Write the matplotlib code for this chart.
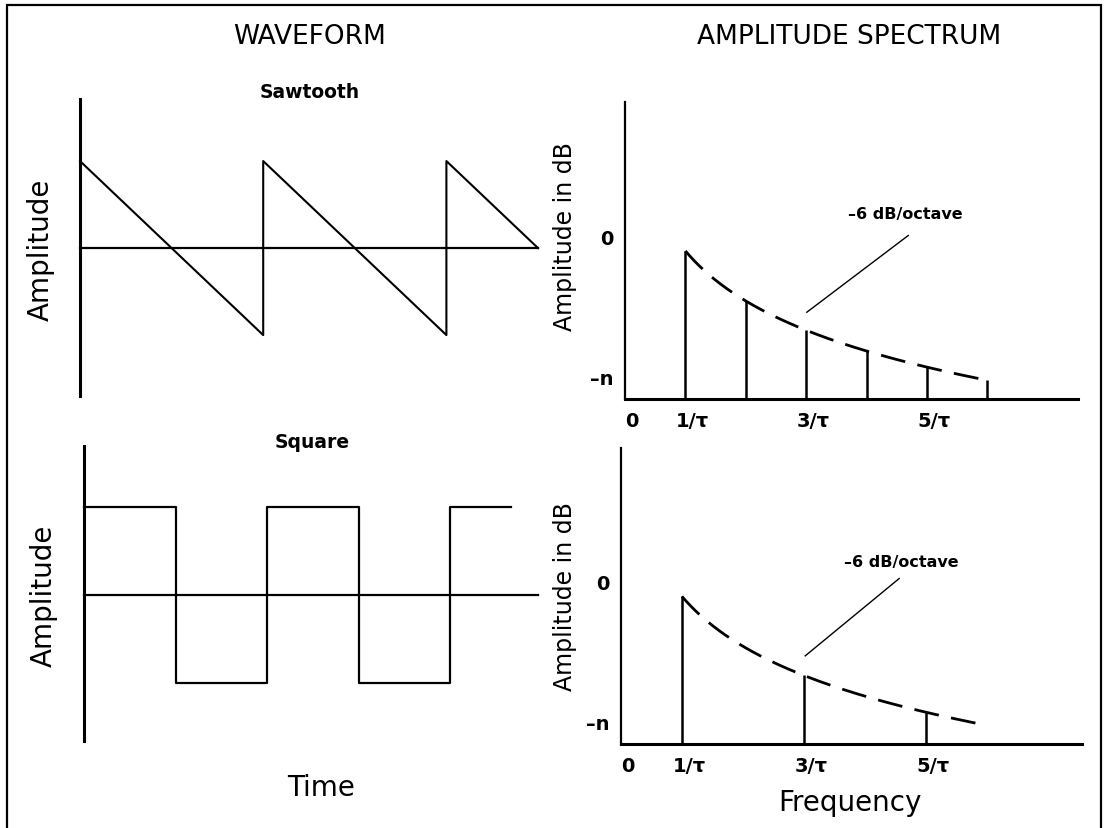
import numpy as np
import matplotlib
matplotlib.use("Agg")
import matplotlib.pyplot as plt
from matplotlib.patches import Rectangle
from matplotlib.transforms import ScaledTranslation

# ---- data -------------------------------------------------------------
# waveforms: time in periods, amplitude normalised to +-1
sawtooth_t = [0, 1, 1, 2, 2, 2.5]
sawtooth_v = [1, -1, 1, -1, 1, 0]

square_t = [0, 0.5, 1.0, 1.5, 2.0, 2.33]
square_v = [1, -1, 1, -1, 1, 1]

# spectra: harmonic number (multiples of 1/tau) and level in dB
saw_harmonics = [1, 2, 3, 4, 5, 6]
saw_levels = [-1.75, -7.75, -11.25, -13.75, -15.7, -17.25]

sq_harmonics = [1, 3, 5]
sq_levels = [-1.75, -11.25, -15.7]

slope_db_per_octave = -6
envelope_end = [6.0, 5.95]

freq_ticks = [0, 1, 3, 5]
freq_tick_labels = ["0", "1/\u03c4", "3/\u03c4", "5/\u03c4"]
db_ticks = [0, -16.8]
db_tick_labels = ["0", "\u2013n"]

# ---- figure -----------------------------------------------------------
W, H = 1106, 829
plt.rcParams["font.family"] = ["DejaVu Sans"]
fig = plt.figure(figsize=(W / 100, H / 100), dpi=100)


def box(left, top, right, bottom):
    return fig.add_axes([left / W, 1 - bottom / H, (right - left) / W, (bottom - top) / H])


def ftext(x, y, s, **kw):
    fig.text(x / W, 1 - y / H, s, ha="center", va="center", **kw)


# outer frame (open at the bottom edge of the page)
fig.add_artist(Rectangle((7 / W, -0.05), (1101 - 7) / W, 1 - 6 / H + 0.05,
                         transform=fig.transFigure, fill=False, lw=1.6,
                         edgecolor="black", clip_on=False))

# ---- waveform panels --------------------------------------------------
def waveform_axes(bounds, xlim, ylim):
    ax = box(*bounds)
    ax.set_xlim(*xlim)
    ax.set_ylim(*ylim)
    ax.axis("off")
    ax.axvline(0, color="black", lw=2.2, clip_on=False)
    ax.axhline(0, color="black", lw=1.6, clip_on=False)
    return ax


ax_saw = waveform_axes((80, 100, 538, 397), (0, 2.5), (-1.70, 1.713))
ax_saw.plot(sawtooth_t, sawtooth_v, color="black", lw=1.5, clip_on=False)

ax_sq = waveform_axes((84, 447, 538, 742), (0, 2.48), (-1.66, 1.69))
ax_sq.step(square_t, square_v, where="post", color="black", lw=1.6, clip_on=False)

# ---- spectrum panels --------------------------------------------------
def spectrum_axes(bounds, xmax, harmonics, levels, f_end, note_xy, leader):
    ax = box(*bounds)
    ax.set_facecolor("none")
    ax.set_xlim(0, xmax)
    ax.set_ylim(-19.5, 16.1)
    for side in ("top", "right"):
        ax.spines[side].set_visible(False)
    ax.spines["left"].set_linewidth(1.6)
    ax.spines["bottom"].set_linewidth(2.2)
    ax.set_xticks(freq_ticks, freq_tick_labels, fontsize=14, fontweight="bold")
    ax.set_yticks(db_ticks, db_tick_labels, fontsize=14, fontweight="bold")
    ax.tick_params(axis="x", length=0, pad=9)
    ax.tick_params(axis="y", length=0, pad=8)
    shift = ScaledTranslation(0.07, 0, fig.dpi_scale_trans)
    for lab in ax.get_xticklabels():
        lab.set_transform(lab.get_transform() + shift)

    ax.vlines(harmonics, -19.5, levels, color="black", lw=1.8)
    f = np.linspace(harmonics[0], f_end, 200)
    env = levels[0] + slope_db_per_octave * np.log2(f / harmonics[0])
    ax.plot(f, env, color="black", lw=2.0, dashes=(9, 4.5))

    ax.text(note_xy[0], note_xy[1], "\u20136 dB/octave", ha="center", va="center",
            fontsize=11.5, fontweight="bold")
    ax.plot(leader[0], leader[1], color="black", lw=1.0)
    return ax


ax_s1 = spectrum_axes((625, 103, 1078, 400), (1078 - 625) / 60.4,
                      saw_harmonics, saw_levels, envelope_end[0],
                      (4.64, 2.7), ([4.69, 3.01], [0.1, -9.1]))
ax_s2 = spectrum_axes((621, 449, 1082, 745), (1082 - 621) / 61.0,
                      sq_harmonics, sq_levels, envelope_end[1],
                      (4.59, 2.5), ([4.56, 3.02], [0.4, -8.9]))

# ---- text -------------------------------------------------------------
ftext(310, 37, "WAVEFORM", fontsize=19)
ftext(849, 37, "AMPLITUDE SPECTRUM", fontsize=19)
ftext(310, 93, "Sawtooth", fontsize=13.5, fontweight="bold")
ftext(312, 443, "Square", fontsize=13.5, fontweight="bold")
ftext(41, 250, "Amplitude", fontsize=20, rotation=90)
ftext(44, 596, "Amplitude", fontsize=20, rotation=90)
ftext(565, 237, "Amplitude in dB", fontsize=17, rotation=90)
ftext(565, 597, "Amplitude in dB", fontsize=17, rotation=90)
ftext(321, 788, "Time", fontsize=20)
ftext(850, 803, "Frequency", fontsize=20)

fig.savefig("out.png", dpi=100)
